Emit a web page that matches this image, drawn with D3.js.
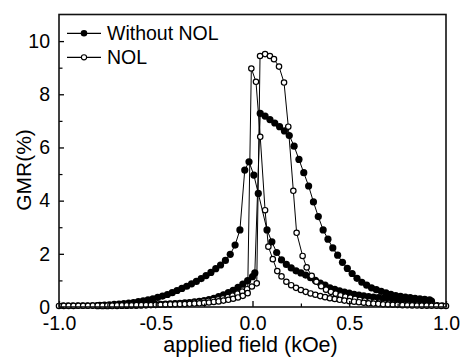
<!DOCTYPE html>
<html><head><meta charset="utf-8">
<script src="https://cdn.jsdelivr.net/npm/d3@7"></script>
<style>
html,body{margin:0;padding:0;background:#fff;}
svg{display:block;font-family:"Liberation Sans",Arial,sans-serif;}
</style>
</head><body>
<svg id="chart" width="461" height="360"></svg>
<script>
// ---------- data ----------
const seriesNames = ["Without NOL", "NOL"];
const xTicks = [-1.0, -0.5, 0.0, 0.5, 1.0];
const xTickLabels = ["-1.0", "-0.5", "0.0", "0.5", "1.0"];
const xMinorTicks = [-0.75, -0.25, 0.25, 0.75];
const yTicks = [0, 2, 4, 6, 8, 10];
const yMinorTicks = [1, 3, 5, 7, 9];
const xTitle = "applied field (kOe)";
const yTitle = "GMR(%)";

// Without NOL, field swept from negative to positive
const withoutUpField = [-0.8,-0.775,-0.75,-0.725,-0.7,-0.675,-0.65,-0.625,-0.6,-0.575,-0.55,-0.525,-0.5,-0.475,-0.45,-0.425,-0.4,-0.375,-0.35,-0.325,-0.3,-0.275,-0.25,-0.225,-0.2,-0.175,-0.15,-0.125,-0.1,-0.075,-0.05,-0.025,0,0.012,0.04,0.065,0.09,0.115,0.14,0.165,0.19,0.215,0.24,0.265,0.29,0.315,0.34,0.365,0.39,0.415,0.44,0.465,0.49,0.515,0.54,0.565,0.59,0.615,0.64,0.665,0.69,0.715,0.74,0.765,0.79,0.815,0.84,0.865,0.89,0.915];
const withoutUpGMR = [0.05,0.05,0.05,0.055,0.055,0.06,0.06,0.065,0.07,0.075,0.08,0.085,0.09,0.1,0.105,0.115,0.125,0.14,0.155,0.17,0.19,0.21,0.24,0.28,0.33,0.39,0.46,0.54,0.63,0.74,0.86,0.99,1.14,1.28,
  7.28,7.18,7.05,6.92,6.78,6.62,6.45,6.05,5.55,5.05,4.55,3.95,3.4,2.9,2.55,2.22,1.95,1.68,1.45,1.26,1.08,0.93,0.82,0.72,0.65,0.59,0.53,0.48,0.43,0.4,0.37,0.35,0.33,0.31,0.29,0.27];

// Without NOL, field swept from positive to negative
const withoutDownField = [-0.79,-0.765,-0.74,-0.715,-0.69,-0.665,-0.64,-0.615,-0.59,-0.565,-0.54,-0.515,-0.49,-0.465,-0.44,-0.415,-0.39,-0.365,-0.34,-0.315,-0.29,-0.265,-0.24,-0.215,-0.19,-0.165,-0.14,-0.115,-0.09,-0.065,-0.04,-0.018,0.007,0.03,0.075,0.1,0.125,0.15,0.175,0.2,0.225,0.25,0.275,0.3,0.325,0.35,0.375,0.4,0.425,0.45,0.475,0.5,0.525,0.55,0.575,0.6,0.625,0.65,0.675,0.7,0.725,0.75,0.775,0.8,0.825,0.85,0.875,0.9,0.925];
const withoutDownGMR = [0.06,0.07,0.08,0.095,0.11,0.13,0.15,0.17,0.2,0.23,0.27,0.31,0.36,0.41,0.47,0.54,0.62,0.7,0.78,0.87,0.96,1.07,1.18,1.3,1.44,1.58,1.75,1.98,2.33,2.9,
  5.15,5.46,4.96,4.27,2.9,2.45,2.05,1.77,1.6,1.47,
  1.36,1.28,1.2,1.1,1.0,0.9,0.82,0.72,0.66,0.61,0.56,0.52,0.48,0.45,0.42,0.39,0.37,0.35,0.33,0.31,0.3,0.29,0.28,0.27,0.26,0.25,0.24,0.23,0.22];

// NOL, field swept from negative to positive
const nolUpField = [-0.978,-0.953,-0.928,-0.903,-0.878,-0.853,-0.828,-0.803,-0.778,-0.753,-0.728,-0.703,-0.678,-0.653,-0.628,-0.603,-0.578,-0.553,-0.528,-0.503,-0.478,-0.453,-0.428,-0.403,-0.378,-0.353,-0.328,-0.303,-0.278,-0.253,-0.228,-0.203,-0.178,-0.153,-0.128,-0.103,-0.078,-0.053,-0.028,-0.003,0.022,0.039,0.065,0.09,0.111,0.137,0.163,0.185,0.211,0.228,0.259,0.28,0.306,0.33,0.355,0.38,0.405,0.43,0.455,0.48,0.505,0.53,0.555,0.58,0.605,0.63,0.655,0.68,0.705,0.73,0.755,0.78,0.805,0.83,0.855,0.88,0.905,0.93,0.955,0.98];
const nolUpGMR = [0.05,0.05,0.05,0.05,0.05,0.05,0.055,0.055,0.055,0.06,0.06,0.06,0.065,0.065,0.07,0.07,0.075,0.08,0.085,0.09,0.095,0.1,0.11,0.12,0.13,0.14,0.155,0.17,0.19,0.21,0.235,0.26,0.29,0.33,0.37,0.43,0.5,0.58,0.67,0.77,0.89,
  9.44,9.51,9.44,9.32,9.04,8.44,6.78,4.37,2.79,1.92,1.49,1.17,
  0.95,0.78,0.65,0.57,0.5,0.44,0.39,0.35,0.31,0.27,0.24,0.21,0.19,0.17,0.15,0.13,0.12,0.11,0.1,0.09,0.085,0.08,0.075,0.07,0.065,0.06,0.055];

// NOL, field swept from positive to negative
const nolDownField = [-1,-0.975,-0.95,-0.925,-0.9,-0.875,-0.85,-0.825,-0.8,-0.775,-0.75,-0.725,-0.7,-0.675,-0.65,-0.625,-0.6,-0.575,-0.55,-0.525,-0.5,-0.475,-0.45,-0.425,-0.4,-0.375,-0.35,-0.325,-0.3,-0.275,-0.25,-0.225,-0.2,-0.175,-0.15,-0.125,-0.1,-0.075,-0.05,-0.025,-0.006,0.018,0.04,0.065,0.082,0.105,0.128,0.15,0.175,0.2,0.225,0.25,0.275,0.3,0.325,0.35,0.375,0.4,0.425,0.45,0.475,0.5,0.525,0.55,0.575,0.6,0.625,0.65,0.675,0.7,0.725,0.75,0.775,0.8,0.825,0.85,0.875,0.9,0.925,0.95,0.975,1];
const nolDownGMR = [0.04,0.04,0.04,0.04,0.045,0.045,0.045,0.05,0.05,0.05,0.055,0.055,0.06,0.06,0.065,0.065,0.07,0.07,0.075,0.075,0.08,0.085,0.09,0.095,0.1,0.105,0.11,0.12,0.13,0.14,0.155,0.17,0.19,0.21,0.24,0.27,0.31,0.36,0.42,0.52,
  8.97,8.47,6.4,3.64,2.27,1.8,1.35,1.15,0.95,0.82,
  0.72,0.64,0.57,0.51,0.46,0.41,0.37,0.33,0.3,0.27,0.24,0.22,0.2,0.18,0.16,0.14,0.13,0.12,0.1,0.09,0.085,0.08,0.07,0.065,0.06,0.055,0.05,0.05,0.045,0.045,0.04,0.04];

// ---------- drawing ----------
const plotLeft = 59, plotRight = 446, plotTop = 14.5, plotBottom = 307;
const svg = d3.select("#chart");
const x = d3.scaleLinear().domain([-1, 1]).range([plotLeft, plotRight]);
const y = d3.scaleLinear().domain([0, 11]).range([plotBottom, plotTop]);

const zip = (xs, ys) => xs.map((v, i) => ({x: v, y: ys[i]}));
const withoutBranches = [zip(withoutUpField, withoutUpGMR), zip(withoutDownField, withoutDownGMR)];
const nolBranches = [zip(nolUpField, nolUpGMR), zip(nolDownField, nolDownGMR)];

const line = d3.line().x(d => x(d.x)).y(d => y(d.y));
const plot = svg.append("g");
const rFilled = 3.6, rOpen = 2.7;

// connecting lines
[...withoutBranches, ...nolBranches].forEach(b => {
  plot.append("path").attr("d", line(b)).attr("fill", "none")
    .attr("stroke", "#000").attr("stroke-width", 1);
});
// filled markers
withoutBranches.forEach(b => {
  plot.append("g").selectAll("circle").data(b).join("circle")
    .attr("cx", d => x(d.x)).attr("cy", d => y(d.y)).attr("r", rFilled).attr("fill", "#000");
});
// open markers
nolBranches.forEach(b => {
  plot.append("g").selectAll("circle").data(b).join("circle")
    .attr("cx", d => x(d.x)).attr("cy", d => y(d.y)).attr("r", rOpen)
    .attr("fill", "#fff").attr("stroke", "#000").attr("stroke-width", 1.2);
});

// axes
const fontTick = "19.5px";
const xAxis = svg.append("g").attr("transform", `translate(0,${plotBottom})`)
  .call(d3.axisBottom(x).tickValues(xTicks).tickSize(-6).tickPadding(9)
    .tickFormat((d, i) => xTickLabels[i]));
xAxis.select(".domain").remove();
xAxis.selectAll("text").attr("font-size", fontTick).attr("font-family", "Liberation Sans, Arial, sans-serif").attr("fill", "#000");
xAxis.selectAll("line").attr("stroke", "#000").attr("stroke-width", 1.3);
const xMinor = svg.append("g").attr("transform", `translate(0,${plotBottom})`)
  .call(d3.axisBottom(x).tickValues(xMinorTicks).tickSize(-3.5).tickFormat(""));
xMinor.select(".domain").remove();
xMinor.selectAll("line").attr("stroke", "#000").attr("stroke-width", 1.2);

const yAxis = svg.append("g").attr("transform", `translate(${plotLeft},0)`)
  .call(d3.axisLeft(y).tickValues(yTicks).tickSize(-5).tickPadding(9).tickFormat(d3.format("d")));
yAxis.select(".domain").remove();
yAxis.selectAll("text").attr("font-size", fontTick).attr("font-family", "Liberation Sans, Arial, sans-serif").attr("fill", "#000");
yAxis.selectAll("line").attr("stroke", "#000").attr("stroke-width", 1.3);
const yMinor = svg.append("g").attr("transform", `translate(${plotLeft},0)`)
  .call(d3.axisLeft(y).tickValues(yMinorTicks).tickSize(-3.5).tickFormat(""));
yMinor.select(".domain").remove();
yMinor.selectAll("line").attr("stroke", "#000").attr("stroke-width", 1.2);

// frame
svg.append("rect").attr("x", plotLeft).attr("y", plotTop).attr("width", plotRight - plotLeft).attr("height", plotBottom - plotTop)
  .attr("fill", "none").attr("stroke", "#111").attr("stroke-width", 1.6);

// titles
svg.append("text").attr("x", 250.5).attr("y", 351.5).attr("text-anchor", "middle")
  .attr("font-size", "21.5px").attr("fill", "#000").text(xTitle);
svg.append("text").attr("transform", "translate(31,170) rotate(-90)").attr("text-anchor", "middle")
  .attr("font-size", "21px").attr("fill", "#000").text(yTitle);

// legend
const legendRows = [{name: seriesNames[0], filled: true, cy: 33.3}, {name: seriesNames[1], filled: false, cy: 57.3}];
legendRows.forEach(r => {
  svg.append("line").attr("x1", 67).attr("x2", 101).attr("y1", r.cy).attr("y2", r.cy)
    .attr("stroke", "#000").attr("stroke-width", 1.2);
  if (r.filled) {
    svg.append("circle").attr("cx", 84).attr("cy", r.cy).attr("r", 3.3).attr("fill", "#000");
  } else {
    svg.append("circle").attr("cx", 84).attr("cy", r.cy).attr("r", 2.6).attr("fill", "#fff")
      .attr("stroke", "#000").attr("stroke-width", 1.1);
  }
  svg.append("text").attr("x", 107).attr("y", r.cy + 6.8).attr("font-size", "19.5px")
    .attr("fill", "#000").text(r.name);
});
</script>
</body></html>
